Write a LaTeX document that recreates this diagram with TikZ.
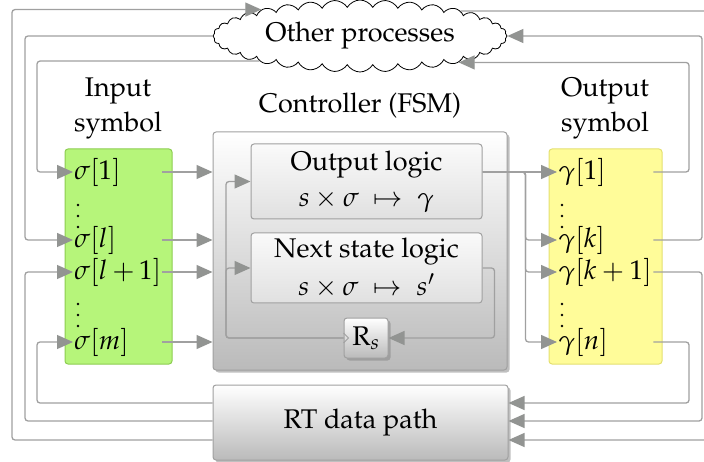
\documentclass[tikz,border=0pt]{standalone}
\usepackage[T1]{fontenc}
\usepackage{mathpazo}
\usetikzlibrary{arrows.meta,shapes.symbols,shadows}
\definecolor{lgray}{RGB}{160,160,160}
\definecolor{tgray}{RGB}{146,148,146}
\definecolor{ingreen}{RGB}{182,245,122}
\definecolor{ingreenb}{RGB}{140,205,80}
\definecolor{outyel}{RGB}{255,252,153}
\definecolor{outyelb}{RGB}{228,224,112}
\definecolor{boxb}{RGB}{160,160,160}
\begin{document}
\begin{tikzpicture}[x=1pt,y=-1pt,
  every node/.style={font=\fontsize{27}{35}\selectfont},
  conn/.style={draw=lgray, line width=1.3pt, rounded corners=3pt},
  arr/.style={conn, -{Triangle[length=16pt,width=14pt,color=tgray]}},
  gbox/.style={draw=boxb, line width=1pt, rounded corners=3pt, top color=white, bottom color=black!27,
    drop shadow={shadow xshift=2.5pt,shadow yshift=-2.5pt,fill=black!50,opacity=0.5}},
  lbox/.style={draw=boxb, line width=1pt, rounded corners=3pt, top color=black!2, bottom color=black!12, align=center},
  sym/.style={anchor=west, text width=87pt, inner sep=1pt},
  gsym/.style={anchor=west, text width=94pt, inner sep=1pt},
  vdot/.style={circle, fill=black, inner sep=0pt, minimum size=2.7pt},
  title/.style={align=center, inner sep=0pt}
]
\useasboundingbox (0,0) rectangle (704,462);
\clip (0,0) rectangle (704,462);

% boxes
\node[gbox, minimum width=294pt, minimum height=238pt] (ctl) at (360,251) {};
\node[gbox, minimum width=295pt, minimum height=75pt] (rt) at (360.5,422.5) {RT data path};
\node[lbox, minimum width=231pt, minimum height=75pt] (ol) at (366.5,181.5) {Output logic\\[1pt] $s\times\sigma\ \mapsto\ \gamma$};
\node[lbox, minimum width=231pt, minimum height=70pt, inner sep=1pt] (ns) at (366.5,268) {Next state logic\\[3pt] $s\times\sigma\ \mapsto\ s'$};
\node[gbox, minimum width=44pt, minimum height=40pt, inner sep=0pt] (rs) at (366,338) {R$_s$};
\draw[draw=boxb, line width=0.8pt] ([yshift=-5pt]rs.west) -- ([xshift=5pt]rs.west) -- ([yshift=5pt]rs.west);

\node[draw=ingreenb, fill=ingreen, rounded corners=3pt, line width=1pt, minimum width=107pt, minimum height=215pt] (inb) at (118.5,256.5) {};
\node[draw=outyelb, fill=outyel, rounded corners=3pt, line width=1pt, minimum width=113pt, minimum height=215pt] (outb) at (605.5,256.5) {};

\node[title] (tin) at (118,108) {Input\\symbol};
\node[title] (tout) at (605,108) {Output\\symbol};
\node[title] (tctl) at (360,106) {Controller (FSM)};

\node[cloud, cloud puffs=36, cloud puff arc=120, cloud ignores aspect, draw, fill=white, line width=0.8pt,
  minimum width=294pt, minimum height=72pt, inner sep=0pt] (cl) at (360,36) {Other processes};

% input symbols
\node[sym] (s1) at (73,172) {$\sigma[1]$};
\node[sym] (sl) at (73,240) {$\sigma[l]$};
\node[sym] (sl1) at (73,272) {$\sigma[l+1]$};
\node[sym] (sm) at (73,342) {$\sigma[m]$};
\foreach \y [count=\i] in {205,216,227,304,315,326}{\node[vdot] (dl\i) at (78,\y) {};}

% output symbols
\node[gsym] (g1) at (557,172) {$\gamma[1]$};
\node[gsym] (gk) at (557,240) {$\gamma[k]$};
\node[gsym] (gk1) at (557,272) {$\gamma[k+1]$};
\node[gsym] (gn) at (557,342) {$\gamma[n]$};
\foreach \y [count=\i] in {205,216,227,304,315,326}{\node[vdot] (dr\i) at (562,\y) {};}

% inputs to controller
\foreach \s in {s1,sl,sl1,sm}{\draw[arr] (\s.east) -- (ctl.west |- \s.east);}

% controller internals
\draw[arr] (ns.east) -- ++(12,0) |- (rs.east);
\draw[arr] (rs.west) -| (226,250) |- (ol.west);
\draw[arr] (rs.west) -| (226,300) |- (ns.west);

% output logic to output symbols
\draw[arr] (ol.east |- g1.west) -- (g1.west);
\draw[arr] (ol.east |- g1.west) -- ++(43,0) |- (gk.west);
\draw[arr] (ol.east |- g1.west) -- ++(43,0) |- (gk1.west);
\draw[arr] (ol.east |- g1.west) -- ++(43,0) |- (gn.west);

% left feedback
\draw[arr] (cl.194) -| (37,100) |- (s1.west);
\draw[arr] (cl.west) -| (25,100) |- (sl.west);
\draw[arr] (rt.west |- 0,403) -| (37,380) |- (sm.west);
\draw[arr] (rt.west |- 0,421) -| (25,380) |- (sl1.west);
\draw[arr] (rt.west |- 0,440) -| (12,200) |- (cl.165);

% right feedback
\draw[arr] (g1.east) -| (689,100) |- (cl.345);
\draw[arr] (gk.east) -| (702,100) |- (cl.east);
\draw[arr] (gk1.east) -| (702,380) |- (rt.east |- 0,421);
\draw[arr] (gn.east) -| (689,380) |- (rt.east |- 0,403);
\draw[arr] (cl.14) -| (730,200) |- (rt.east |- 0,440);
\end{tikzpicture}
\end{document}
